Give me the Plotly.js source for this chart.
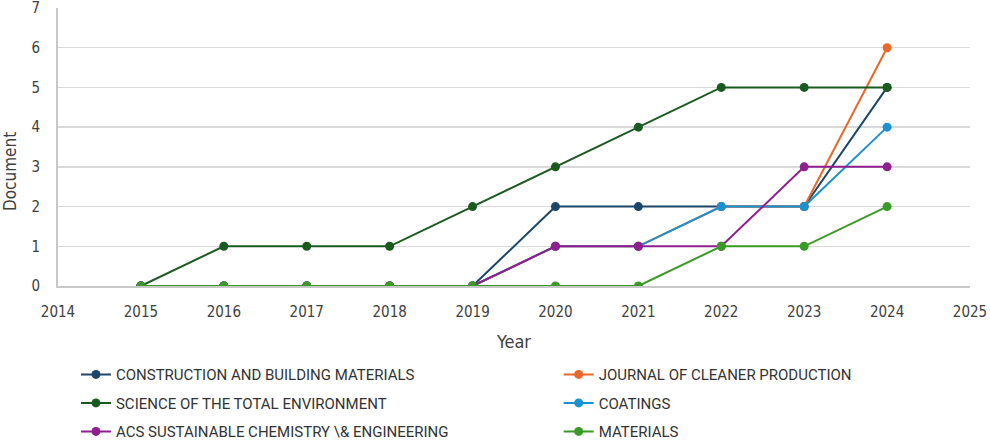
<!DOCTYPE html>
<html>
<head>
<meta charset="utf-8">
<script src="https://cdn.plot.ly/plotly-3.0.1.min.js"></script>
<style>html,body{margin:0;padding:0;background:#fff}#chart{width:990px;height:446px}</style>
</head>
<body>
<div id="chart"></div>
<script>
var years = [2015, 2016, 2017, 2018, 2019, 2020, 2021, 2022, 2023, 2024];
var seriesNames = [
  "CONSTRUCTION AND BUILDING MATERIALS",
  "JOURNAL OF CLEANER PRODUCTION",
  "SCIENCE OF THE TOTAL ENVIRONMENT",
  "COATINGS",
  "ACS SUSTAINABLE CHEMISTRY \\& ENGINEERING",
  "MATERIALS"
];
var constructionBuilding = [0, 0, 0, 0, 0, 2, 2, 2, 2, 5];
var cleanerProduction    = [0, 0, 0, 0, 0, 1, 1, 2, 2, 6];
var totalEnvironment     = [0, 1, 1, 1, 2, 3, 4, 5, 5, 5];
var coatings             = [0, 0, 0, 0, 0, 1, 1, 2, 2, 4];
var acsSustainable       = [0, 0, 0, 0, 0, 1, 1, 1, 3, 3];
var materials            = [0, 0, 0, 0, 0, 0, 0, 1, 1, 2];
var seriesValues = [constructionBuilding, cleanerProduction, totalEnvironment, coatings, acsSustainable, materials];
var colors = ["#1b4668", "#e8682a", "#1b5a1f", "#1a91d0", "#8e1f8e", "#3a9a26"];
var legendColumn = ["legend", "legend2", "legend", "legend2", "legend", "legend2"];
var xTicks = [2014, 2015, 2016, 2017, 2018, 2019, 2020, 2021, 2022, 2023, 2024, 2025];
var yTicks = [0, 1, 2, 3, 4, 5, 6, 7];
var yTitle = "Document";
var xTitle = "Year";

var narrow = "'Liberation Sans Narrow', 'DejaVu Sans Condensed', Roboto, sans-serif";

var traces = seriesNames.map(function (n, i) {
  return {
    x: years, y: seriesValues[i], name: n, type: "scatter", mode: "lines+markers",
    line: {color: colors[i], width: 2},
    marker: {color: colors[i], size: 9},
    legend: legendColumn[i], legendgroup: "g" + i
  };
});

function legendBox(x) {
  return {
    orientation: "v", x: x, y: 0.197, xref: "paper", yref: "container",
    xanchor: "left", yanchor: "top", itemwidth: 30,
    font: {family: "Roboto, sans-serif", size: 15, color: "#333"}, tracegroupgap: 6, traceorder: "grouped",
    bgcolor: "rgba(0,0,0,0)"
  };
}

var layout = {
  width: 990, height: 446,
  margin: {l: 58, r: 20, t: 8, b: 160},
  paper_bgcolor: "#fff", plot_bgcolor: "#fff",
  font: {family: "Roboto, sans-serif", color: "#404040", size: 13},
  showlegend: true,
  xaxis: {
    range: [2014, 2025], tickvals: xTicks, ticktext: xTicks.map(String),
    showgrid: false, zeroline: false, showline: true, linecolor: "#c8c8c8", linewidth: 2,
    ticks: "", ticklabelstandoff: 11, ticklabeloverflow: "allow",
    tickfont: {family: narrow, size: 15, color: "#404040"},
    title: {text: xTitle, font: {family: narrow, size: 18, color: "#404040"}, standoff: 15}
  },
  yaxis: {
    range: [0, 7], tickvals: yTicks, showgrid: true, gridcolor: "#d9d9d9", gridwidth: 1.5,
    zeroline: false, showline: true, linecolor: "#c8c8c8", linewidth: 2,
    ticks: "", ticklabelstandoff: 13, ticklabeloverflow: "allow",
    tickfont: {family: narrow, size: 15, color: "#404040"}
  },
  annotations: [{
    text: yTitle, xref: "paper", yref: "paper", x: -0.0526, y: 0.41,
    xanchor: "center", yanchor: "middle", textangle: -90, showarrow: false,
    font: {family: narrow, size: 17, color: "#404040"}
  }],
  legend: legendBox(0.0197),
  legend2: legendBox(0.549)
};
Plotly.newPlot("chart", traces, layout, {displayModeBar: false, staticPlot: true});
</script>
</body>
</html>
